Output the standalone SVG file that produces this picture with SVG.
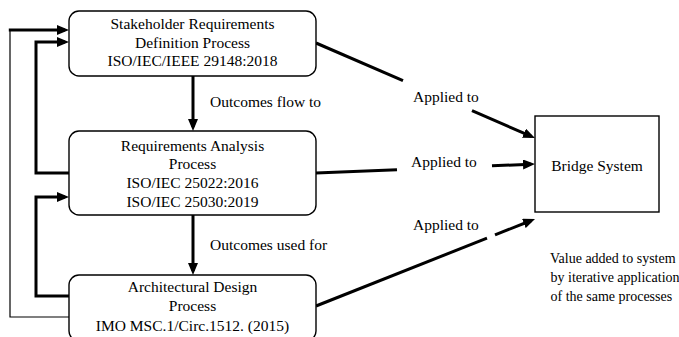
<svg xmlns="http://www.w3.org/2000/svg" width="679" height="337" viewBox="0 0 679 337" font-family="'Liberation Serif', 'Times New Roman', 'DejaVu Serif', serif">
<style>
  text { font-family: "Liberation Serif", "Times New Roman", "DejaVu Serif", serif; font-size: 15.5px; fill: #000; }
  .c { text-anchor: middle; }
  .note { font-size: 14px; }
  .box { fill: #fff; stroke: #000; stroke-width: 1.4; }
  .thick { fill: none; stroke: #000; stroke-width: 3; }
  .thin { fill: none; stroke: #000; stroke-width: 1.2; }
</style>
<defs>
  <marker id="ah" markerUnits="userSpaceOnUse" markerWidth="12" markerHeight="10" refX="8" refY="5" orient="auto" viewBox="0 0 12 10">
    <path d="M0,0 L12,5 L0,10 z" fill="#000"/>
  </marker>
</defs>
<rect width="679" height="337" fill="#fff"/>

<g id="connectors">
  <polyline class="thin" points="69,317 10,317 10,30"/>
  <line class="thick" x1="8.8" y1="30" x2="65" y2="30" marker-end="url(#ah)"/>
  <polyline class="thick" points="69,173 36,173 36,42 65,42" marker-end="url(#ah)"/>
  <polyline class="thick" points="69,296 36,296 36,197 65,197" marker-end="url(#ah)"/>
  <line class="thick" x1="193" y1="76" x2="193" y2="127" marker-end="url(#ah)"/>
  <line class="thick" x1="193" y1="215" x2="193" y2="271" marker-end="url(#ah)"/>
  <line class="thick" x1="316" y1="43" x2="403" y2="80.7"/>
  <line class="thick" x1="472" y1="110.7" x2="531.3" y2="136.4" marker-end="url(#ah)"/>
  <line class="thick" x1="316" y1="173" x2="397" y2="169.7"/>
  <line class="thick" x1="492" y1="165.8" x2="531" y2="164.2" marker-end="url(#ah)"/>
  <line class="thick" x1="316" y1="306" x2="487" y2="238.1"/>
  <line class="thick" x1="495" y1="234.9" x2="531.3" y2="220.5" marker-end="url(#ah)"/>
  <text x="210" y="107">Outcomes flow to</text>
  <text x="210" y="250">Outcomes used for</text>
  <text x="413" y="102">Applied to</text>
  <text x="411" y="166.5">Applied to</text>
  <text x="413" y="230">Applied to</text>
</g>

<g id="stakeholder">
  <rect class="box" x="69" y="11" width="247" height="65" rx="10"/>
  <text class="c" x="192.5" y="29">Stakeholder Requirements</text>
  <text class="c" x="192.5" y="47.5">Definition Process</text>
  <text class="c" x="192.5" y="66">ISO/IEC/IEEE 29148:2018</text>
</g>

<g id="analysis">
  <rect class="box" x="69" y="131" width="247" height="84" rx="10"/>
  <text class="c" x="192.5" y="150.7">Requirements Analysis</text>
  <text class="c" x="192.5" y="169">Process</text>
  <text class="c" x="192.5" y="188">ISO/IEC 25022:2016</text>
  <text class="c" x="192.5" y="207">ISO/IEC 25030:2019</text>
</g>

<g id="design">
  <rect class="box" x="69" y="275" width="247" height="66" rx="10"/>
  <text class="c" x="192.5" y="291.7">Architectural Design</text>
  <text class="c" x="192.5" y="310.7">Process</text>
  <text class="c" x="192.5" y="330.5">IMO MSC.1/Circ.1512. (2015)</text>
</g>

<g id="bridge">
  <rect class="box" x="535" y="116" width="124" height="96"/>
  <text class="c" x="597" y="171">Bridge System</text>
</g>

<g id="note">
  <text class="note" x="550" y="263">Value added to system</text>
  <text class="note" x="550.5" y="282">by iterative application</text>
  <text class="note" x="550.5" y="301">of the same processes</text>
</g>
</svg>
